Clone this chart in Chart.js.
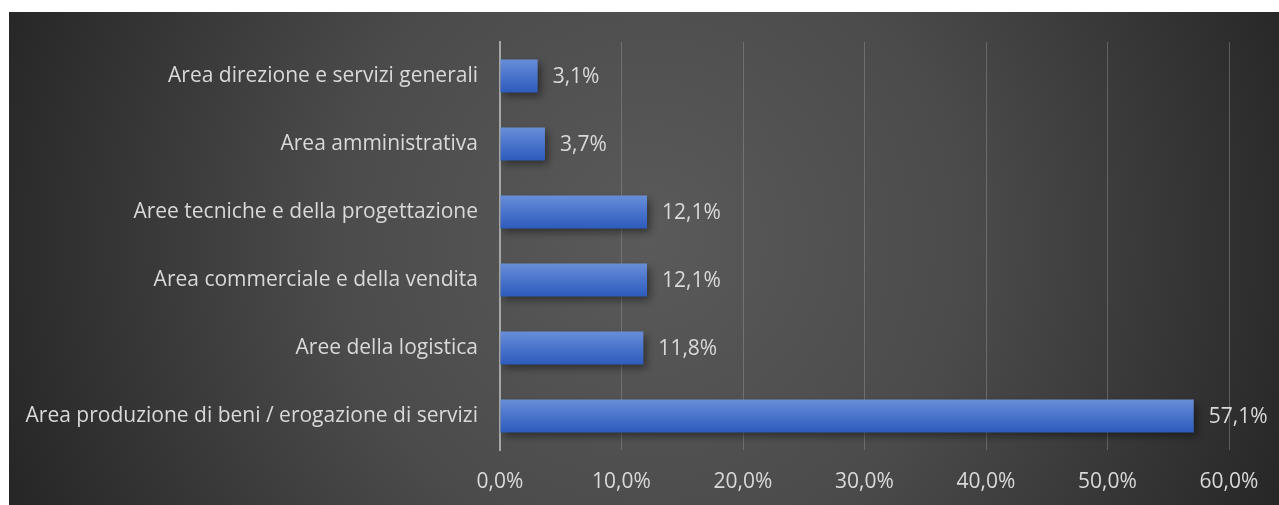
<!DOCTYPE html>
<html>
<head>
<meta charset="utf-8">
<script src="https://cdn.jsdelivr.net/npm/chart.js@4"></script>
<style>
    html, body { margin: 0; padding: 0; background: #ffffff; }
</style>
</head>
<body>
<canvas id="areaChart" width="1279" height="505"></canvas>
<script>
// dati del grafico
const categories = [
    'Area direzione e servizi generali',
    'Area amministrativa',
    'Aree tecniche e della progettazione',
    'Area commerciale e della vendita',
    'Aree della logistica',
    'Area produzione di beni / erogazione di servizi'
];
const values = [3.1, 3.7, 12.1, 12.1, 11.8, 57.1];
const xTicks = [0, 10, 20, 30, 40, 50, 60];

const textColor = '#d9d9d9';
const fontFamily = "'Open Sans', sans-serif";
const fontSize = 21;

function fmt(v) {
    return v.toFixed(1).replace('.', ',') + '%';
}

// sfondo scuro con gradiente radiale
const backgroundPlugin = {
    id: 'darkBackground',
    beforeDraw(chart) {
        const ctx = chart.ctx;
        ctx.save();
        ctx.fillStyle = '#ffffff';
        ctx.fillRect(0, 0, chart.width, chart.height);
        const g = ctx.createRadialGradient(650, 240, 0, 650, 240, 700);
        g.addColorStop(0, '#5a5a5a');
        g.addColorStop(0.45, '#4b4b4b');
        g.addColorStop(1, '#252525');
        ctx.fillStyle = g;
        ctx.fillRect(9, 12, chart.width - 9, chart.height - 12);
        ctx.restore();
    }
};

// ombra sotto le barre
const shadowPlugin = {
    id: 'barShadow',
    beforeDatasetsDraw(chart) {
        const ctx = chart.ctx;
        ctx.save();
        ctx.shadowColor = 'rgba(0, 0, 0, 0.45)';
        ctx.shadowBlur = 8;
        ctx.shadowOffsetX = 3;
        ctx.shadowOffsetY = 4;
    },
    afterDatasetsDraw(chart) {
        chart.ctx.restore();
    }
};

// etichette dei valori
const valueLabelPlugin = {
    id: 'valueLabels',
    afterDatasetsDraw(chart) {
        const ctx = chart.ctx;
        const meta = chart.getDatasetMeta(0);
        ctx.save();
        ctx.fillStyle = textColor;
        ctx.font = fontSize + 'px ' + fontFamily;
        ctx.textAlign = 'left';
        ctx.textBaseline = 'middle';
        meta.data.forEach((bar, i) => {
            ctx.fillText(fmt(values[i]), bar.x + 15, bar.y + 1);
        });
        ctx.restore();
    }
};

const ctx = document.getElementById('areaChart');
new Chart(ctx, {
    type: 'bar',
    data: {
        labels: categories,
        datasets: [{
            data: values,
            backgroundColor: function (context) {
                const chart = context.chart;
                const y = chart.scales.y;
                if (!y || context.dataIndex === undefined) return '#4472c4';
                const cy = y.getPixelForValue(context.dataIndex);
                if (!isFinite(cy)) return '#4472c4';
                const g = chart.ctx.createLinearGradient(0, cy - 17, 0, cy + 17);
                g.addColorStop(0, '#6a8fd8');
                g.addColorStop(0.5, '#4a74cc');
                g.addColorStop(1, '#2c5bbb');
                return g;
            },
            borderWidth: 0,
            categoryPercentage: 1,
            barPercentage: 0.485
        }]
    },
    options: {
        indexAxis: 'y',
        responsive: false,
        animation: false,
        devicePixelRatio: 1,
        layout: {
            padding: { top: 42, right: 50, left: 0, bottom: 0 }
        },
        plugins: {
            legend: { display: false },
            tooltip: { enabled: false }
        },
        scales: {
            x: {
                min: 0,
                max: 60,
                afterBuildTicks: function (scale) {
                    scale.ticks = xTicks.map(v => ({ value: v }));
                },
                afterFit: function (scale) {
                    scale.height = 55;
                },
                grid: {
                    color: 'rgba(150, 150, 150, 0.45)',
                    lineWidth: 1,
                    drawTicks: false
                },
                border: { display: false },
                ticks: {
                    color: textColor,
                    padding: 19,
                    font: { size: fontSize, family: fontFamily },
                    callback: function (value) {
                        return fmt(value);
                    }
                }
            },
            y: {
                afterFit: function (scale) {
                    scale.width = 500;
                },
                grid: { display: false, drawTicks: false },
                border: { display: true, color: '#a6a6a6', width: 2 },
                ticks: {
                    color: textColor,
                    padding: 22,
                    font: { size: fontSize, family: fontFamily }
                }
            }
        }
    },
    plugins: [backgroundPlugin, shadowPlugin, valueLabelPlugin]
});
</script>
</body>
</html>
